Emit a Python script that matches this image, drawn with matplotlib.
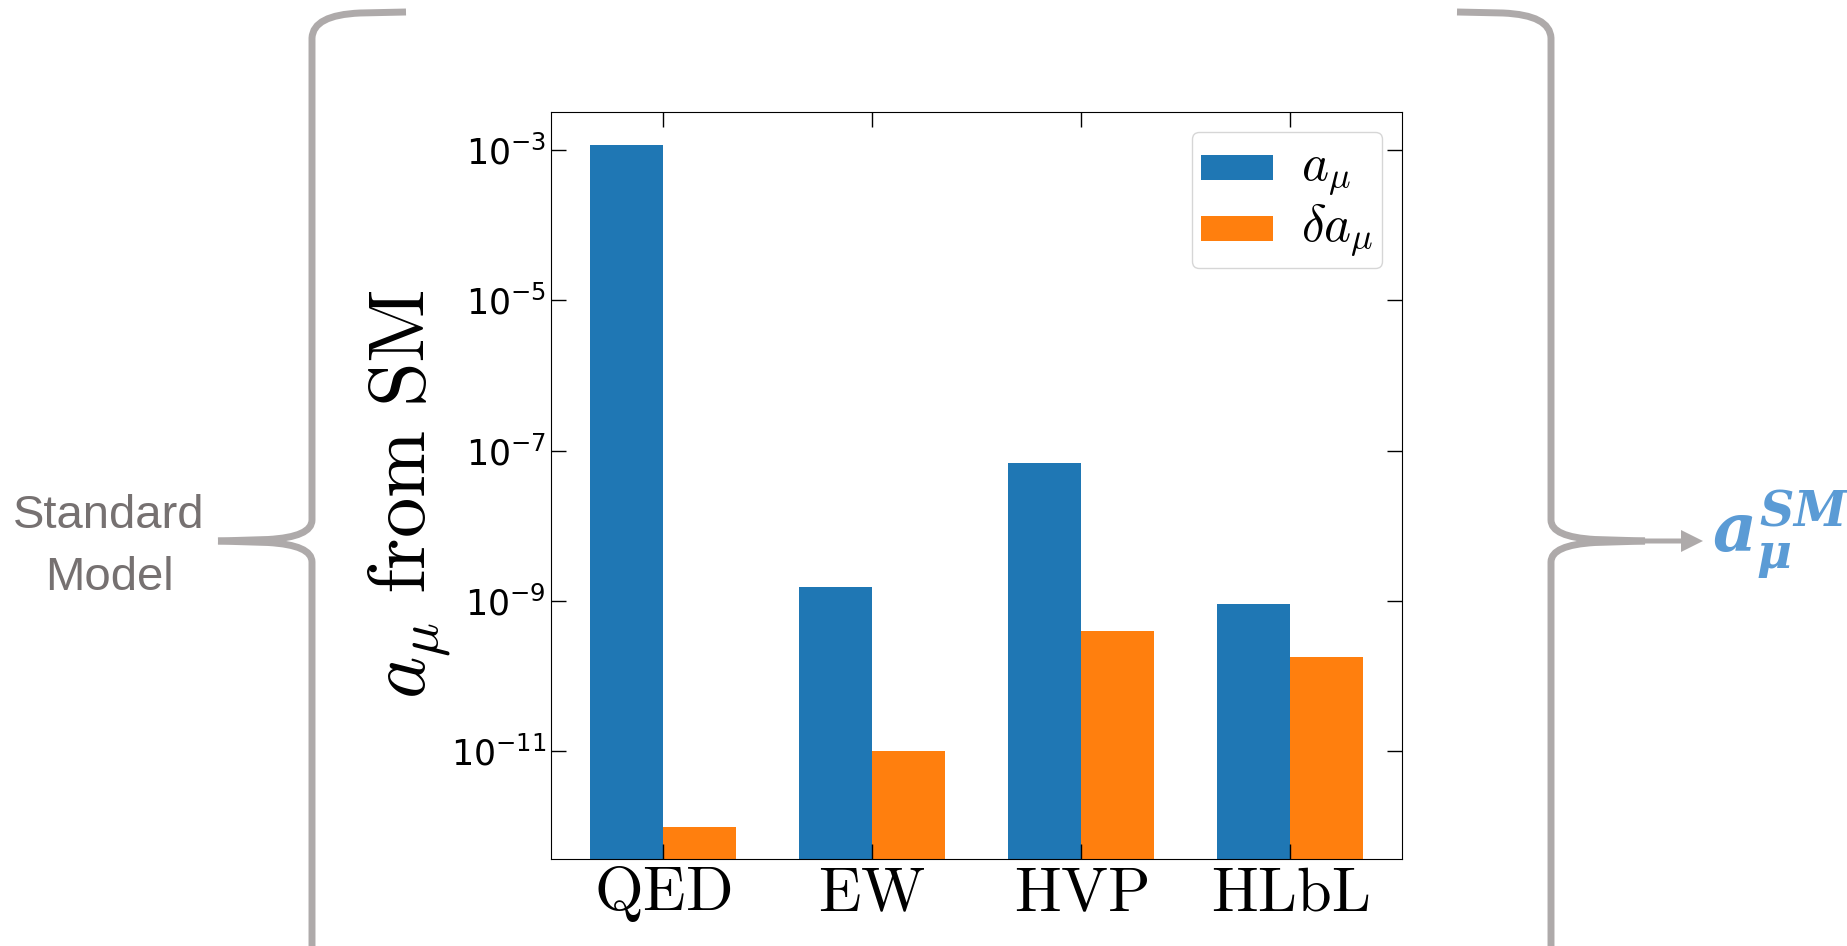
import numpy as np
import matplotlib
matplotlib.use('Agg')
import matplotlib.pyplot as plt
from matplotlib.path import Path
from matplotlib.patches import PathPatch
from matplotlib.ticker import NullLocator

# contributions to the muon g-2 from the Standard Model
categories = ['QED', 'EW', 'HVP', 'HLbL']
a_mu = [116584718.9e-11, 153.6e-11, 6845e-11, 92e-11]
delta_a_mu = [0.1e-11, 1.0e-11, 40e-11, 18e-11]
series_labels = [r'$a_\mu$', r'$\delta a_\mu$']
yticks = [1e-11, 1e-9, 1e-7, 1e-5, 1e-3]
ylim = (3.7e-13, 3.2e-3)

W, H = 1847, 946
grey = '#aeaaaa'
text_grey = '#767171'
blue_txt = '#5b9bd5'

plt.rcParams['mathtext.it'] = 'DejaVu Serif:italic:bold'
plt.rcParams['mathtext.rm'] = 'DejaVu Serif:bold'
plt.rcParams['mathtext.bf'] = 'DejaVu Serif:italic:bold'

fig = plt.figure(figsize=(W / 100, H / 100), dpi=100)

# decoration layer in pixel coordinates (y down)
deco = fig.add_axes([0, 0, 1, 1])
deco.set_xlim(0, W)
deco.set_ylim(H, 0)
deco.axis('off')


def brace_paths(mirror):
    up = [((406, 12), Path.MOVETO), ((360, 13), Path.LINETO),
          ((313, 15), Path.CURVE3), ((312, 38), Path.CURVE3),
          ((312, 520), Path.LINETO),
          ((312, 537), Path.CURVE3), ((268, 539.5), Path.CURVE3),
          ((218, 541), Path.LINETO)]
    low = [((218, 541), Path.MOVETO), ((268, 542.5), Path.LINETO),
           ((312, 545), Path.CURVE3), ((312, 562), Path.CURVE3),
           ((312, 960), Path.LINETO)]
    out = []
    for seg in (up, low):
        pts = [(1863 - p[0] if mirror else p[0], p[1]) for p, _ in seg]
        out.append(Path(pts, [c for _, c in seg]))
    return out


for mirror in (False, True):
    for p in brace_paths(mirror):
        deco.add_patch(PathPatch(p, fill=False, edgecolor=grey, lw=5,
                                 capstyle='butt', joinstyle='round'))

deco.arrow(1640, 541, 63, 0, width=5, head_width=22, head_length=22,
           length_includes_head=True, color=grey, lw=0)

deco.text(109, 528, 'Standard', ha='center', va='baseline', fontsize=34,
          family='Liberation Sans', color=text_grey)
deco.text(109, 590, 'Model', ha='center', va='baseline', fontsize=34,
          family='Liberation Sans', color=text_grey)
deco.text(1712, 552, r'$a_{\mu}^{SM}$', ha='left', va='baseline',
          fontsize=49, color=blue_txt, math_fontfamily='custom')

# the chart
ax = fig.add_axes([551 / W, 1 - 859 / H, (1402 - 551) / W, (859 - 112) / H])
x = np.arange(len(categories))
ax.set_yscale('log')
ax.bar(x, a_mu, width=-0.35, align='edge', color='#1f77b4', label=series_labels[0])
ax.bar(x, delta_a_mu, width=0.35, align='edge', color='#ff7f0e', label=series_labels[1])
ax.set_ylim(*ylim)
ax.set_yticks(yticks)
ax.yaxis.set_minor_locator(NullLocator())
ax.set_xticks(x)
ax.set_xticklabels([r'$\mathrm{%s}$' % c for c in categories], fontsize=45,
                   math_fontfamily='cm')
ax.tick_params(which='both', direction='in', top=True, right=True,
               length=11, width=1)
ax.tick_params(axis='y', labelsize=25)
ax.set_ylabel(r'$a_\mu\ \mathrm{from\ SM}$', fontsize=58, math_fontfamily='cm')
ax.yaxis.set_label_coords(-0.114, 0.489)
leg = ax.legend(fontsize=26, loc='upper right', labelspacing=0.12,
                borderpad=0.25, handletextpad=0.75, borderaxespad=0.55)
for t in leg.get_texts():
    t.set_math_fontfamily('cm')
    t.set_fontsize(37)

fig.savefig('out.png', dpi=100)
